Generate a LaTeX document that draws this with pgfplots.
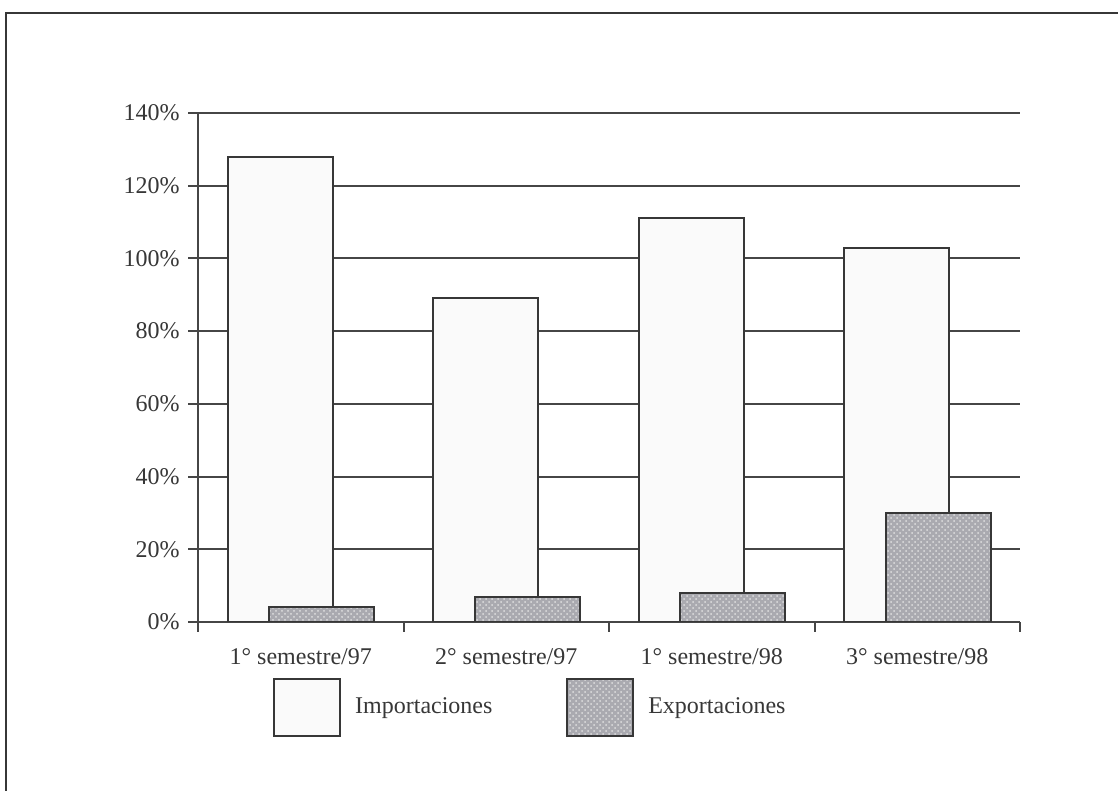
\documentclass[border=0pt]{standalone}
\usepackage{pgfplots}
\pgfplotsset{compat=1.18}
\usepackage{fontspec}
\setmainfont{Liberation Serif}
\usetikzlibrary{patterns}
\definecolor{ink}{RGB}{55,55,55}
\definecolor{gridc}{RGB}{70,70,70}
\definecolor{imp}{RGB}{250,250,250}
\definecolor{expc}{RGB}{170,170,176}
\begin{document}
\fontsize{12}{14}\selectfont
\begin{tikzpicture}
\useasboundingbox (0,0) rectangle (559pt,395.5pt);
\fill[white] (0,0) rectangle (559pt,395.5pt);
\draw[ink, line width=1.4pt] (3pt,0) -- (3pt,389pt) -- (559pt,389pt);
\begin{axis}[
  at={(99pt,84.5pt)}, anchor=south west,
  scale only axis, width=411pt, height=254.5pt,
  xmin=-0.5, xmax=3.5, ymin=0, ymax=140,
  axis x line*=bottom, axis y line*=left,
  axis line style={-, draw=gridc, line width=1pt},
  ybar, bar width=52.5pt,
  xtick={0,1,2,3},
  xticklabels={1° semestre/97, 2° semestre/97, 1° semestre/98, 3° semestre/98},
  minor xtick={-0.5,0.5,1.5,2.5,3.5},
  major x tick style={draw=none},
  ytick={0,20,40,60,80,100,120,140},
  yticklabels={0\%,20\%,40\%,60\%,80\%,100\%,120\%,140\%},
  tick align=outside, major tick length=5pt, minor tick length=5pt,
  tick style={draw=gridc, line width=1pt},
  ymajorgrids=true,
  grid style={draw=gridc, line width=1pt},
  ticklabel style={font=\fontsize{12}{14}\selectfont, text=ink},
  xticklabel style={yshift=-4pt},
  every axis plot post/.append style={
    legend image code/.code={\draw[##1, draw=ink, line width=0.8pt] (0pt,-14.25pt) rectangle (33pt,14.25pt); \path (38pt,0pt);}},
  legend style={at={(0.09,0)}, anchor=north west, xshift=-2.5pt, yshift=-26pt, draw=none, fill=none,
    font=\fontsize{12}{14}\selectfont, text=ink,
    /tikz/every even column/.append style={column sep=35pt}},
  legend columns=2,
  legend cell align=left,
]
\addplot[bar shift=-10.25pt, fill=imp, draw=ink, line width=1pt]
  coordinates {(0,128) (1,89) (2,111) (3,103)};
\addlegendentry{Importaciones}
\addplot[bar shift=10.5pt, fill=expc, draw=ink, line width=1pt,
  postaction={pattern=crosshatch dots, pattern color=white!75!gray}]
  coordinates {(0,4) (1,7) (2,8) (3,30)};
\addlegendentry{Exportaciones}
\end{axis}
\end{tikzpicture}
\end{document}
